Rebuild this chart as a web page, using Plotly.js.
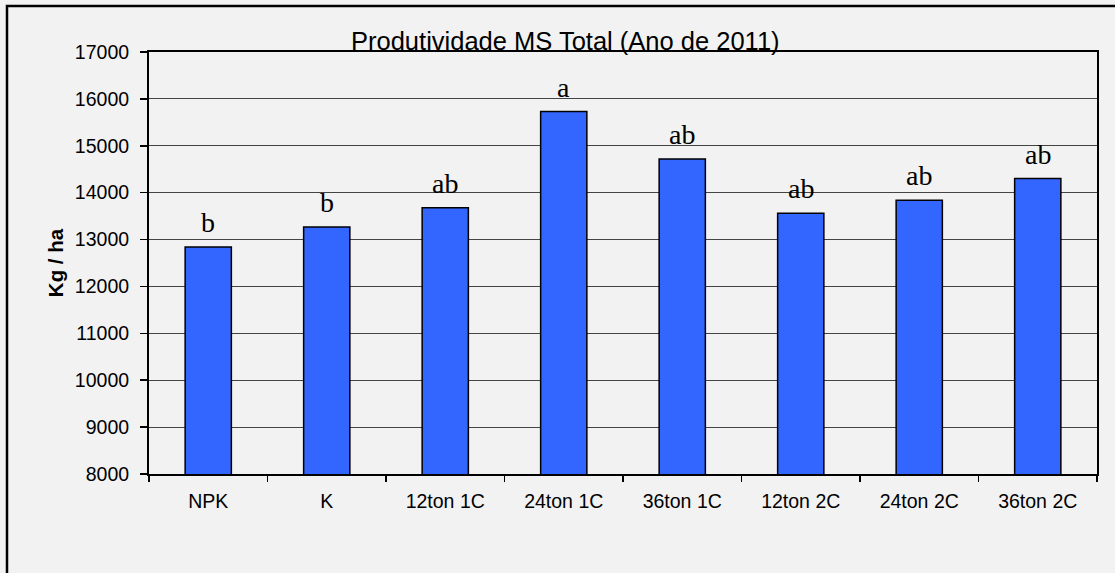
<!DOCTYPE html>
<html>
<head>
<meta charset="utf-8">
<script src="https://cdn.plot.ly/plotly-3.0.1.min.js"></script>
<style>
  html, body { margin: 0; padding: 0; background: #f2f2f2; }
  #chart { width: 1115px; height: 573px; }
</style>
</head>
<body>
<div id="chart"></div>
<script>
const categories = ["NPK", "K", "12ton 1C", "24ton 1C", "36ton 1C", "12ton 2C", "24ton 2C", "36ton 2C"];
const values = [12840, 13270, 13680, 15730, 14720, 13560, 13840, 14300];
const letters = ["b", "b", "ab", "a", "ab", "ab", "ab", "ab"];
const yTicks = [8000, 9000, 10000, 11000, 12000, 13000, 14000, 15000, 16000, 17000];

const W = 1115, H = 573;
const L = 149, T = 52, R = 18, B = 99;
const pw = W - L - R, ph = H - T - B;
const px = v => (v - L) / pw;
const py = v => (H - B - v) / ph;

const trace = {
  type: "bar",
  x: categories,
  y: values,
  marker: { color: "#3366ff", line: { color: "#000000", width: 1.5 } },
  hoverinfo: "x+y"
};

const annotations = categories.map((c, i) => ({
  x: c, y: values[i], xref: "x", yref: "y",
  text: letters[i], showarrow: false,
  yanchor: "bottom", yshift: 7,
  font: { family: "Liberation Serif, Times New Roman, serif", size: 28, color: "#000" }
}));

annotations.push({
  x: px(565), y: py(41), xref: "paper", yref: "paper",
  text: "Produtividade MS Total (Ano de 2011)", showarrow: false,
  xanchor: "center", yanchor: "middle",
  font: { family: "Liberation Sans, Arial, sans-serif", size: 25.5, color: "#000" }
});

const layout = {
  width: W, height: H,
  margin: { l: L, r: R, t: T, b: B, pad: 0 },
  paper_bgcolor: "#f2f2f2",
  plot_bgcolor: "#f2f2f2",
  showlegend: false,
  bargap: 0.61,
  font: { family: "Liberation Sans, Arial, sans-serif", size: 19.5, color: "#000" },
  xaxis: {
    type: "category",
    tickson: "boundaries",
    ticks: "outside", ticklen: 6, tickwidth: 1.5, tickcolor: "#000",
    ticklabelstandoff: 9,
    showline: true, linecolor: "#000", linewidth: 2, mirror: true,
    showgrid: false, zeroline: false,
    tickfont: { size: 19.5, color: "#000" }
  },
  yaxis: {
    range: [8000, 17000],
    tickvals: yTicks,
    ticktext: yTicks.map(String),
    ticks: "outside", ticklen: 7, tickwidth: 1.5, tickcolor: "#000",
    ticklabelstandoff: 7,
    showline: true, linecolor: "#000", linewidth: 2, mirror: true,
    showgrid: true, gridcolor: "#444444", gridwidth: 1,
    zeroline: false,
    tickfont: { size: 19.5, color: "#000" },
    title: { text: "<b>Kg / ha</b>", font: { size: 20.5, color: "#000" }, standoff: 6 }
  },
  annotations: annotations,
  shapes: [{
    type: "rect", xref: "paper", yref: "paper",
    x0: px(7), x1: px(1125), y0: py(590), y1: py(6),
    line: { color: "#000", width: 2.5 }, fillcolor: "rgba(0,0,0,0)", layer: "above"
  }]
};

Plotly.newPlot("chart", [trace], layout, { displayModeBar: false, staticPlot: true });
</script>
</body>
</html>
